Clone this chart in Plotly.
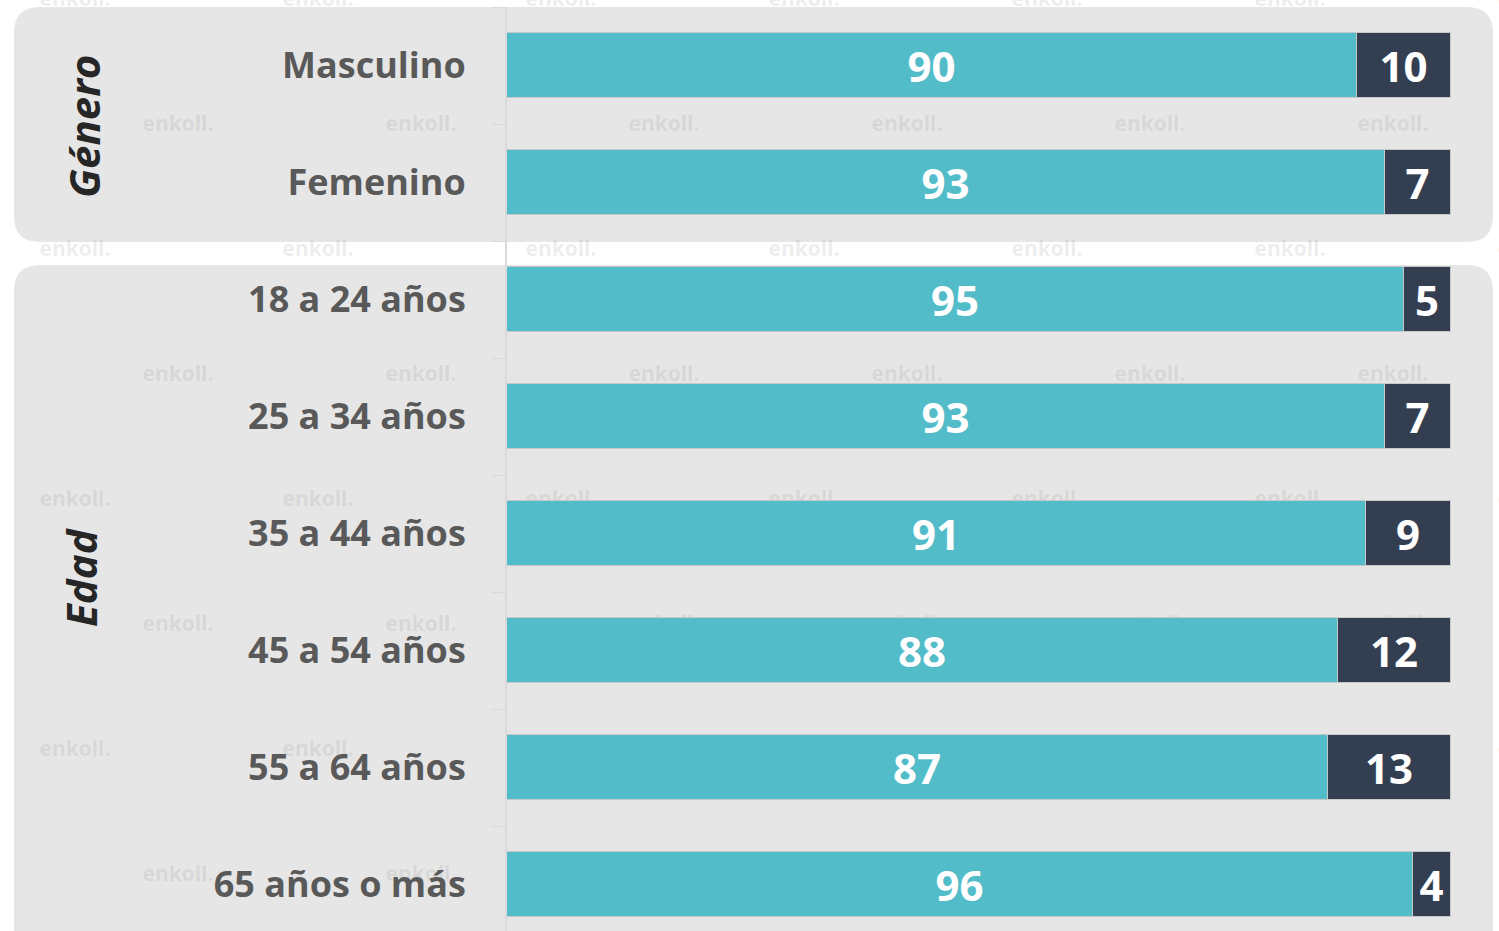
"""
Stacked horizontal bars by Género / Edad with enkoll watermark
"""
import plotly.graph_objects as go

categories = ["Masculino", "Femenino", "18 a 24 años", "25 a 34 años",
              "35 a 44 años", "45 a 54 años", "55 a 64 años", "65 años o más"]
si_values = [90, 93, 95, 93, 91, 88, 87, 96]
no_values = [10, 7, 5, 7, 9, 12, 13, 4]
groups = ["Género", "Edad"]

W, H = 1499, 931
TEAL = "#53BCC9"
NAVY = "#333F50"
PANEL = "#E6E6E6"
FONT = "Open Sans"


def rounded_rect(x0, y0, x1, y1, r):
    # y grows downwards on the pixel axis
    return (f"M {x0 + r} {y0} L {x1 - r} {y0} Q {x1} {y0} {x1} {y0 + r} "
            f"L {x1} {y1 - r} Q {x1} {y1} {x1 - r} {y1} "
            f"L {x0 + r} {y1} Q {x0} {y1} {x0} {y1 - r} "
            f"L {x0} {y0 + r} Q {x0} {y0} {x0 + r} {y0} Z")


# watermark grid (pixel space)
wm_x, wm_y = [], []
for i, y in enumerate(range(1, 940, 125)):
    start = 75 if i % 2 == 0 else 178
    for k in range(7):
        wm_x.append(start + 243 * k)
        wm_y.append(y)

fig = go.Figure()

fig.add_trace(go.Scatter(
    x=wm_x, y=wm_y, mode="text", text=["enkoll."] * len(wm_x),
    textfont=dict(family=FONT, size=21, weight=700, color="rgba(140,140,140,0.16)"),
    xaxis="x", yaxis="y", hoverinfo="skip", showlegend=False))

fig.add_trace(go.Bar(
    y=categories, x=si_values, orientation="h", name="Sí",
    marker=dict(color=TEAL, line=dict(color="#C8C8C8", width=1)),
    width=0.555, text=si_values, textposition="inside",
    insidetextanchor="middle", constraintext="none",
    textfont=dict(family=FONT, size=42, weight=700, color="white"),
    xaxis="x2", yaxis="y2", hoverinfo="skip"))

fig.add_trace(go.Bar(
    y=categories, x=no_values, orientation="h", name="No",
    marker=dict(color=NAVY, line=dict(color="#C8C8C8", width=1)),
    width=0.555, text=no_values, textposition="inside",
    insidetextanchor="middle", constraintext="none",
    textfont=dict(family=FONT, size=42, weight=700, color="white"),
    xaxis="x2", yaxis="y2", hoverinfo="skip"))

# gray rounded panels behind each group
fig.add_shape(type="path", path=rounded_rect(14, 7, 1493, 242, 26),
              xref="x", yref="y", fillcolor=PANEL, line=dict(width=0), layer="below")
fig.add_shape(type="path", path=rounded_rect(14, 265, 1493, 960, 26),
              xref="x", yref="y", fillcolor=PANEL, line=dict(width=0), layer="below")

fig.add_annotation(x=83, y=127, xref="x", yref="y", text=f"<i><b>{groups[0]}</b></i>",
                   textangle=-90, showarrow=False,
                   font=dict(family=FONT, size=42, color="#262626"))
fig.add_annotation(x=80, y=577, xref="x", yref="y", text=f"<i><b>{groups[1]}</b></i>",
                   textangle=-90, showarrow=False,
                   font=dict(family=FONT, size=42, color="#262626"))

plot_top = 7
fig.update_layout(
    width=W, height=H,
    margin=dict(l=0, r=0, t=0, b=0),
    paper_bgcolor="white", plot_bgcolor="rgba(0,0,0,0)",
    barmode="stack", bargap=0.0, showlegend=False,
    xaxis=dict(domain=[0, 1], range=[0, W], visible=False, anchor="y", fixedrange=True),
    yaxis=dict(domain=[0, 1], range=[H, 0], visible=False, anchor="x", fixedrange=True),
    xaxis2=dict(domain=[507 / W, 1451 / W], range=[0, 100], visible=False, anchor="y2"),
    yaxis2=dict(
        domain=[0, (H - plot_top) / H], anchor="x2", type="category",
        categoryorder="array", categoryarray=categories,
        range=[(H - plot_top) / 117 - 0.5, -0.5],
        showline=True, linecolor="#D9D9D9", linewidth=2,
        ticks="outside", tickson="boundaries", ticklen=14, tickcolor="#D9D9D9",
        tickwidth=1, ticklabelstandoff=32,
        tickfont=dict(family=FONT, size=36, weight=700, color="#595959"),
        showgrid=False, zeroline=False),
)

fig.write_html("out.html", config={"displayModeBar": False},
               post_script="document.body.style.margin='0';")
